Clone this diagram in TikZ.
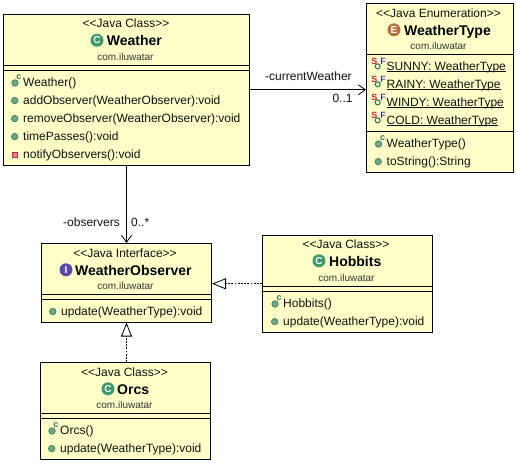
\documentclass[tikz,border=0pt]{standalone}
\usepackage{fontspec}
\setmainfont{Liberation Sans}
\newcounter{iconc}
\definecolor{boxfill}{HTML}{FFFFC8}
\definecolor{txt}{HTML}{111111}
\definecolor{ballg}{HTML}{6FA885}
\definecolor{ballb}{HTML}{3F7F5F}
\definecolor{bigg}{HTML}{3C9A6C}
\definecolor{bige}{HTML}{B8703C}
\definecolor{bigi}{HTML}{5B48A8}
\definecolor{privr}{HTML}{E8808C}
\definecolor{privb}{HTML}{C02040}
\usetikzlibrary{arrows.meta}
\tikzset{
  umlbox/.style={draw=black,line width=1pt,fill=boxfill,inner sep=0pt,rectangle},
  sep/.style={draw=black,line width=1pt},
  stereo/.style={anchor=base,inner sep=0pt,font=\fontsize{12}{12}\selectfont,text=txt},
  cname/.style={anchor=base west,inner sep=0pt,font=\fontsize{14}{14}\selectfont\bfseries,text=black},
  pkg/.style={anchor=base,inner sep=0pt,font=\fontsize{10}{10}\selectfont,text=txt!85!white},
  memb/.style={anchor=base west,inner sep=0pt,font=\fontsize{12}{12}\selectfont,text=txt},
  lab/.style={anchor=base west,inner sep=0pt,font=\fontsize{12}{12}\selectfont,text=txt},
  conn/.style={draw=black,line width=1pt},
  openhead/.style={-{Straight Barb[length=7pt,width=10pt,line width=.8pt]}},
  realize/.style={draw=black,line width=1pt,dash pattern=on 1.8pt off 1.4pt,-{Triangle[open,length=14pt,width=11pt,fill=white,line width=.8pt]}},
  bigicon/.style={circle,minimum size=13pt,inner sep=0pt,text=white,font=\fontsize{10}{10}\selectfont\bfseries},
  smallball/.style={circle,minimum size=6.5pt,inner sep=0pt,draw=ballb,line width=.7pt,fill=ballg},
  ringball/.style={circle,minimum size=5pt,inner sep=0pt,draw=bigg!70!black,line width=1pt,fill=boxfill},
  tiny/.style={inner sep=0pt,font=\fontsize{9}{9}\selectfont\bfseries},
}
\newcommand{\umlrect}[5]{\node[umlbox,minimum width={(#4-#2)*1pt},minimum height={(#5-#3)*1pt}] (#1) at ({(#2+#4)/2},{(#3+#5)/2}) {};}
\newcommand{\hdr}[8]{%
  \stepcounter{iconc}%
  \node[stereo] (h\theiconc) at (#2,#3) {<{}<#1>{}>};
  \node[bigicon,fill=#4] (i\theiconc) at (#6,#3+12.8) {#5};
  \node[cname] (n\theiconc) at (#7,#3+18) {#8};
}
\newcommand{\pkgname}[2]{\stepcounter{iconc}\node[pkg] (p\theiconc) at (#1,#2) {com.iluwatar};}
\newcommand{\pubm}[3]{\stepcounter{iconc}%
  \node[smallball] (b\theiconc) at (#1-8.3,#2-3.4) {};
  \node[memb] (t\theiconc) at (#1,#2) {#3};}
\newcommand{\ctor}[3]{\stepcounter{iconc}%
  \node[smallball] (b\theiconc) at (#1-8,#2-3) {};
  \node[tiny,text=bigg!80!black] (c\theiconc) at (#1-4,#2-9) {c};
  \node[memb] (t\theiconc) at (#1,#2) {#3};}
\newcommand{\privm}[3]{\stepcounter{iconc}%
  \node[rectangle,minimum size=5.6pt,inner sep=0pt,draw=privb,line width=.8pt,fill=privr] (b\theiconc) at (#1-8.3,#2-3.2) {};
  \node[memb] (t\theiconc) at (#1,#2) {#3};}
\newcommand{\enumc}[3]{\stepcounter{iconc}%
  \node[tiny,text=privb] (s\theiconc) at (#1-12.2,#2-8.3) {S};
  \node[tiny,text=blue!70!black,font=\fontsize{9}{9}\selectfont] (f\theiconc) at (#1-3.5,#2-8.3) {F};
  \node[ringball] (b\theiconc) at (#1-8.8,#2-3.7) {};
  \node[memb] (t\theiconc) at (#1,#2) {\underline{\smash{#3}}};}
\begin{document}
\begin{tikzpicture}[x=1pt,y=-1pt]
\useasboundingbox (0,0) rectangle (517,463);
\umlrect{weather}{3.5}{14.5}{249.5}{165}
\umlrect{wtype}{366.5}{3.5}{513.5}{172}
\umlrect{wobs}{41.5}{243.5}{211.5}{322}
\umlrect{orcs}{40.5}{362.5}{210.5}{459}
\umlrect{hobbits}{262.5}{235.5}{432.5}{332}
\draw[sep] (3.5,65.5)--(249.5,65.5) (3.5,70.5)--(249.5,70.5);
\draw[sep] (366.5,54)--(513.5,54) (366.5,131.5)--(513.5,131.5);
\draw[sep] (41.5,294.5)--(211.5,294.5) (41.5,299.5)--(211.5,299.5);
\draw[sep] (40.5,413.5)--(210.5,413.5) (40.5,418.5)--(210.5,418.5);
\draw[sep] (262.5,286.5)--(432.5,286.5) (262.5,291.5)--(432.5,291.5);
\hdr{Java Class}{126}{27.5}{bigg}{C}{97}{106.7}{Weather}
\pkgname{125.5}{60}
\ctor{23}{86}{Weather()}
\pubm{23}{104}{addObserver(WeatherObserver):void}
\pubm{23}{122}{removeObserver(WeatherObserver):void}
\pubm{23}{140}{timePasses():void}
\privm{23}{158}{notifyObservers():void}
\hdr{Java Enumeration}{438.5}{17}{bige}{E}{394}{404}{WeatherType}
\pkgname{438.5}{49}
\enumc{386.5}{70}{SUNNY: WeatherType}
\enumc{386.5}{88}{RAINY: WeatherType}
\enumc{386.5}{106}{WINDY: WeatherType}
\enumc{386.5}{124}{COLD: WeatherType}
\ctor{386.5}{147}{WeatherType()}
\pubm{386.5}{165}{toString():String}
\hdr{Java Interface}{125}{257}{bigi}{I}{66}{75}{WeatherObserver}
\pkgname{125.5}{289}
\pubm{61}{315}{update(WeatherType):void}
\hdr{Java Class}{124.5}{376}{bigg}{C}{108}{117}{Orcs}
\pkgname{124.5}{408}
\ctor{60}{434}{Orcs()}
\pubm{60}{452}{update(WeatherType):void}
\hdr{Java Class}{346}{248}{bigg}{C}{319}{329}{Hobbits}
\pkgname{346.5}{281}
\ctor{283}{307}{Hobbits()}
\pubm{283}{325}{update(WeatherType):void}
\draw[conn,openhead] (weather.east) -- (wtype.west |- weather.east);
\draw[conn,openhead] (weather.south) -- (wobs.north);
\draw[realize] (hobbits.west) -- (wobs.east |- hobbits.west);
\draw[realize] (orcs.north -| wobs.south) -- (wobs.south);
\node[lab] (l1) at (265,80) {-currentWeather};
\node[lab] (l2) at (332.3,102.7) {0..1};
\node[lab] (l3) at (63,226.7) {-observers};
\node[lab] (l4) at (131,226.7) {0..*};
\end{tikzpicture}
\end{document}
